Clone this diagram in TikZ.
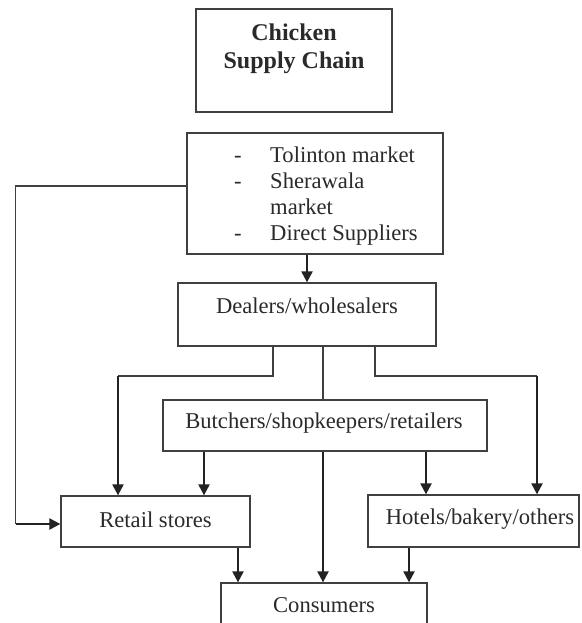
\documentclass[tikz,border=0pt]{standalone}
\usepackage{fontspec}
\setmainfont{Liberation Serif}
\usetikzlibrary{arrows.meta}
\definecolor{linec}{HTML}{404040}
\definecolor{arrc}{HTML}{222222}
\definecolor{txtc}{HTML}{2A2A2A}
\begin{document}
\begin{tikzpicture}[x=1pt,y=-1pt,
  box/.style={draw=linec, line width=1.3pt, inner sep=0pt, fill=none},
  txt/.style={anchor=base, inner sep=0pt, text=txtc, font=\fontsize{22.6}{26}\selectfont},
  ttl/.style={anchor=base, inner sep=0pt, text=txtc, font=\fontsize{24}{28}\selectfont\bfseries},
  thin/.style={draw=linec, line width=1.3pt},
  arr/.style={draw=arrc, line width=2.2pt, -{Triangle[length=11pt,width=11pt]}}]
\clip (0,0) rectangle (581,623);
\fill[white] (0,0) rectangle (581,623);
% boxes
\node[box, minimum width=196pt, minimum height=103pt] (title) at (294,60.5) {};
\node[box, minimum width=256pt, minimum height=121pt] (src) at (315,193.5) {};
\node[box, minimum width=258pt, minimum height=63pt] (deal) at (307,314.5) {};
\node[box, minimum width=324pt, minimum height=51pt] (butch) at (325,425.5) {};
\node[box, minimum width=189pt, minimum height=51pt] (retail) at (155.5,521.5) {};
\node[box, minimum width=211pt, minimum height=52pt] (hotel) at (473.5,521) {};
\node[box, minimum width=206pt, minimum height=67pt] (cons) at (324,616.5) {};
% texts
\node[ttl] (t1) at (294,41) {Chicken};
\node[ttl] (t2) at (294,69) {Supply Chain};
\node[txt] (d1) at (238,162) {-};
\node[txt] (d2) at (238,188) {-};
\node[txt] (d3) at (238,240) {-};
\node[txt, anchor=base west] (s1) at (270,162) {Tolinton market};
\node[txt, anchor=base west] (s2) at (270,188) {Sherawala};
\node[txt, anchor=base west] (s3) at (270,214) {market};
\node[txt, anchor=base west] (s4) at (270,240) {Direct Suppliers};
\node[txt] (tdeal) at (307,313) {Dealers/wholesalers};
\node[txt] (tbutch) at (324,428) {Butchers/shopkeepers/retailers};
\node[txt] (tretail) at (155.5,527) {Retail stores};
\node[txt] (thotel) at (480,524) {Hotels/bakery/others};
\node[txt] (tcons) at (324,612) {Consumers};
% helper coordinates
\coordinate (lA) at (15.7,186);
\coordinate (lB) at (15.7,524);
\coordinate (rA) at (118,376);
\coordinate (hA) at (537,376);
% connectors
\draw[arr] (307,0 |- src.south) -- (307,0 |- deal.north);
\draw[thin] (323,0 |- deal.south) -- (323,0 |- butch.north);
\draw[thin] (273,0 |- deal.south) -- (273,376) -- (rA);
\draw[arr] (rA) -- (rA |- retail.north);
\draw[thin] (375,0 |- deal.south) -- (375,376) -- (hA);
\draw[arr] (hA) -- (hA |- hotel.north);
\draw[thin] (src.west |- lA) -- (lA) -- (lB);
\draw[arr] (lB) -- (retail.west |- lB);
\draw[arr] (204,0 |- butch.south) -- (204,0 |- retail.north);
\draw[arr] (323,0 |- butch.south) -- (323,0 |- cons.north);
\draw[arr] (426,0 |- butch.south) -- (426,0 |- hotel.north);
\draw[arr] (238,0 |- retail.south) -- (238,0 |- cons.north);
\draw[arr] (409,0 |- hotel.south) -- (409,0 |- cons.north);
\end{tikzpicture}
\end{document}
